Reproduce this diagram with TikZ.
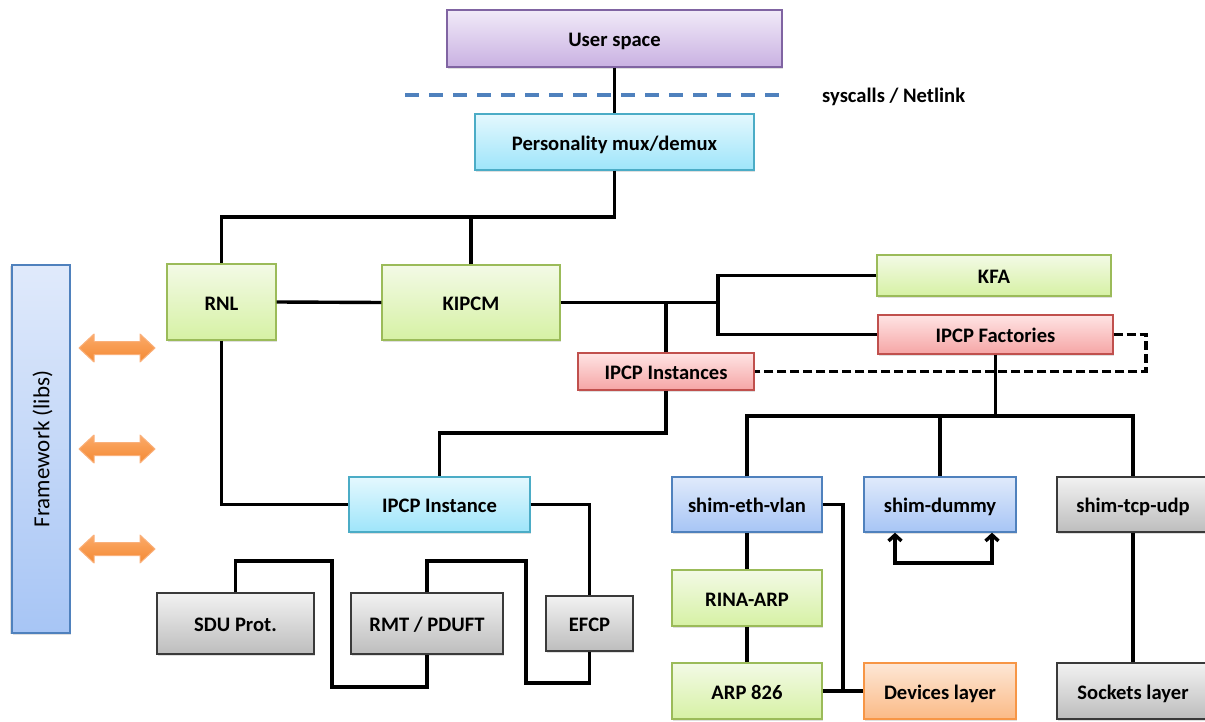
\documentclass[tikz,border=0pt]{standalone}
\usepackage{fontspec}
\setmainfont{Carlito}
\usetikzlibrary{arrows.meta,shadows}
\definecolor{purB}{HTML}{8064A2}\definecolor{purT}{HTML}{F1EAF8}\definecolor{purD}{HTML}{C9B1E2}
\definecolor{cyaB}{HTML}{4BACC6}\definecolor{cyaT}{HTML}{E4F8FE}\definecolor{cyaD}{HTML}{9EE5FA}
\definecolor{grnB}{HTML}{9BBB59}\definecolor{grnT}{HTML}{F3FAE6}\definecolor{grnD}{HTML}{D6F1A4}
\definecolor{redB}{HTML}{C0504D}\definecolor{redT}{HTML}{FFE4E4}\definecolor{redD}{HTML}{F5A5A5}
\definecolor{bluB}{HTML}{4F81BD}\definecolor{bluT}{HTML}{E0EAFB}\definecolor{bluD}{HTML}{A7C5F5}
\definecolor{gryB}{HTML}{3A3A3A}\definecolor{gryT}{HTML}{F2F2F2}\definecolor{gryD}{HTML}{BDBDBD}
\definecolor{orgB}{HTML}{F79646}\definecolor{orgT}{HTML}{FDE7D6}\definecolor{orgD}{HTML}{FBBA86}
\definecolor{arrT}{HTML}{FBAA6A}\definecolor{arrD}{HTML}{F48A33}\definecolor{arrB}{HTML}{FAB07A}
\definecolor{sysB}{HTML}{4F81BD}
\tikzset{barbtip/.tip={Straight Barb[length=6pt,width=13pt]}}
\begin{document}
\begin{tikzpicture}[x=1pt,y=-1pt,
  box/.style={draw, line width=1.3pt, inner sep=0pt, align=center,
    font=\bfseries\fontsize{20.6}{24}\selectfont, text height=20pt, text depth=3.5pt,
    drop shadow={shadow xshift=1.2pt, shadow yshift=-1.8pt, opacity=0.25}},
  pbox/.style={box, draw=purB, top color=purT, bottom color=purD},
  cbox/.style={box, draw=cyaB, top color=cyaT, bottom color=cyaD},
  gbox/.style={box, draw=grnB, top color=grnT, bottom color=grnD},
  rbox/.style={box, draw=redB, top color=redT, bottom color=redD},
  bbox/.style={box, draw=bluB, top color=bluT, bottom color=bluD},
  ybox/.style={box, draw=gryB, top color=gryT, bottom color=gryD},
  obox/.style={box, draw=orgB, top color=orgT, bottom color=orgD},
  conn/.style={line width=3.4pt, black},
  dconn/.style={conn, dash pattern=on 9pt off 4pt},
  sysline/.style={line width=3.2pt, sysB, dash pattern=on 14pt off 10pt},
  oarrow/.style={draw=arrB, line width=1pt, top color=arrT, bottom color=arrD, line join=round}
]
\useasboundingbox (0,0) rectangle (1205,722);

% boxes
\node[pbox, minimum width=335pt, minimum height=57pt] (user) at (614.5,38.5) {User space};
\node[cbox, minimum width=279pt, minimum height=56pt] (pers) at (614.5,142) {Personality mux/demux};
\node[gbox, minimum width=109pt, minimum height=76pt] (rnl) at (221.5,302) {RNL};
\node[gbox, minimum width=178pt, minimum height=75pt] (kipcm) at (471,302.5) {KIPCM};
\node[gbox, minimum width=234pt, minimum height=41pt] (kfa) at (994,275.5) {KFA};
\node[rbox, minimum width=235pt, minimum height=39pt] (fact) at (995.5,334.5) {IPCP Factories};
\node[rbox, minimum width=176pt, minimum height=37pt] (insts) at (666,371.5) {IPCP Instances};
\node[cbox, minimum width=181pt, minimum height=55pt] (inst) at (439.5,504.5) {IPCP Instance};
\node[ybox, minimum width=157pt, minimum height=61pt] (sdu) at (235.5,623.5) {SDU Prot.};
\node[ybox, minimum width=152pt, minimum height=61pt] (rmt) at (427,623.5) {RMT / PDUFT};
\node[ybox, minimum width=87pt, minimum height=55pt] (efcp) at (589.5,623.5) {EFCP};
\node[bbox, minimum width=150pt, minimum height=55pt] (eth) at (747,504.5) {shim-eth-vlan};
\node[bbox, minimum width=152pt, minimum height=55pt] (dummy) at (940,504.5) {shim-dummy};
\node[ybox, minimum width=152pt, minimum height=55pt] (tcp) at (1133,504.5) {shim-tcp-udp};
\node[gbox, minimum width=150pt, minimum height=56pt] (rarp) at (747,598) {RINA-ARP};
\node[gbox, minimum width=150pt, minimum height=56pt] (arp) at (747,691) {ARP 826};
\node[obox, minimum width=152pt, minimum height=56pt] (dev) at (940,691) {Devices layer};
\node[ybox, minimum width=152pt, minimum height=56pt] (sock) at (1133,691) {Sockets layer};
\node[box, draw=bluB, top color=bluT, bottom color=bluD, rotate=90,
  minimum width=368pt, minimum height=58pt, font=\fontsize{23}{26}\selectfont,
  drop shadow={shadow xshift=-1.8pt, shadow yshift=-1.2pt, opacity=0.25}] (fw) at (41,449) {Framework (libs)};

% syscalls line
\coordinate (sc1) at (405,95);
\coordinate (sc2) at (788,95);
\draw[sysline] (sc1) -- (sc2);
\node[anchor=west, font=\bfseries\fontsize{20.6}{24}\selectfont, inner sep=0pt] (sys) at (822,97) {syscalls / Netlink};

% orange double arrows
\foreach \cy in {348,449,549}{
  \path[oarrow] (79,\cy) -- (94,\cy-14) -- (94,\cy-6.5) -- (140,\cy-6.5) -- (140,\cy-14) -- (155,\cy)
     -- (140,\cy+14) -- (140,\cy+6.5) -- (94,\cy+6.5) -- (94,\cy+14) -- cycle;
}

% connectors
\draw[conn] (user.south) -- (pers.north);
\coordinate (b1) at (614.5,217);
\draw[conn] (pers.south) -- (b1) -| (rnl.north);
\draw[conn] (kipcm.north) -- (kipcm.north |- b1);
\draw[conn] (rnl.east) -- (kipcm.west);
\coordinate (j1) at (718,302.5);
\draw[conn] (kipcm.east) -- (j1);
\draw[conn] (kfa.west) -| (j1) |- (fact.west);
\draw[conn] (insts.north) -- (insts.north |- kipcm.east);
\coordinate (j2) at (666,433);
\draw[conn] (insts.south) -- (j2) -| (inst.north);
\draw[conn] (rnl.south) |- (inst.west);
\draw[conn] (inst.east) -| (efcp.north);
\coordinate (s1) at (332,561);
\coordinate (s2) at (332,687);
\draw[conn] (sdu.north) |- (s1) -- (s2) -| (rmt.south);
\coordinate (r1) at (526,561);
\coordinate (r2) at (526,683);
\draw[conn] (rmt.north) |- (r1) -- (r2) -| (efcp.south);
\coordinate (dd) at (1146,371.5);
\draw[dconn] (fact.east) -| (dd) -- (insts.east);
\coordinate (b2) at (995.5,416);
\draw[conn] (fact.south) -- (b2);
\draw[conn] (eth.north) |- (tcp.north |- b2) -- (tcp.north);
\draw[conn] (dummy.north) -- (dummy.north |- b2);
\draw[conn] (eth.south) -- (rarp.north);
\draw[conn] (rarp.south) -- (arp.north);
\coordinate (d1) at (843,691);
\draw[conn] (eth.east) -| (d1) -- (dev.west);
\draw[conn] (arp.east) -- (d1);
\draw[conn] (tcp.south) -- (sock.north);
\coordinate (l1) at (895,563);
\coordinate (l2) at (992,563);
\draw[conn, barbtip-barbtip] (dummy.south -| l1) -- (l1) -- (l2) -- (dummy.south -| l2);
\end{tikzpicture}
\end{document}
